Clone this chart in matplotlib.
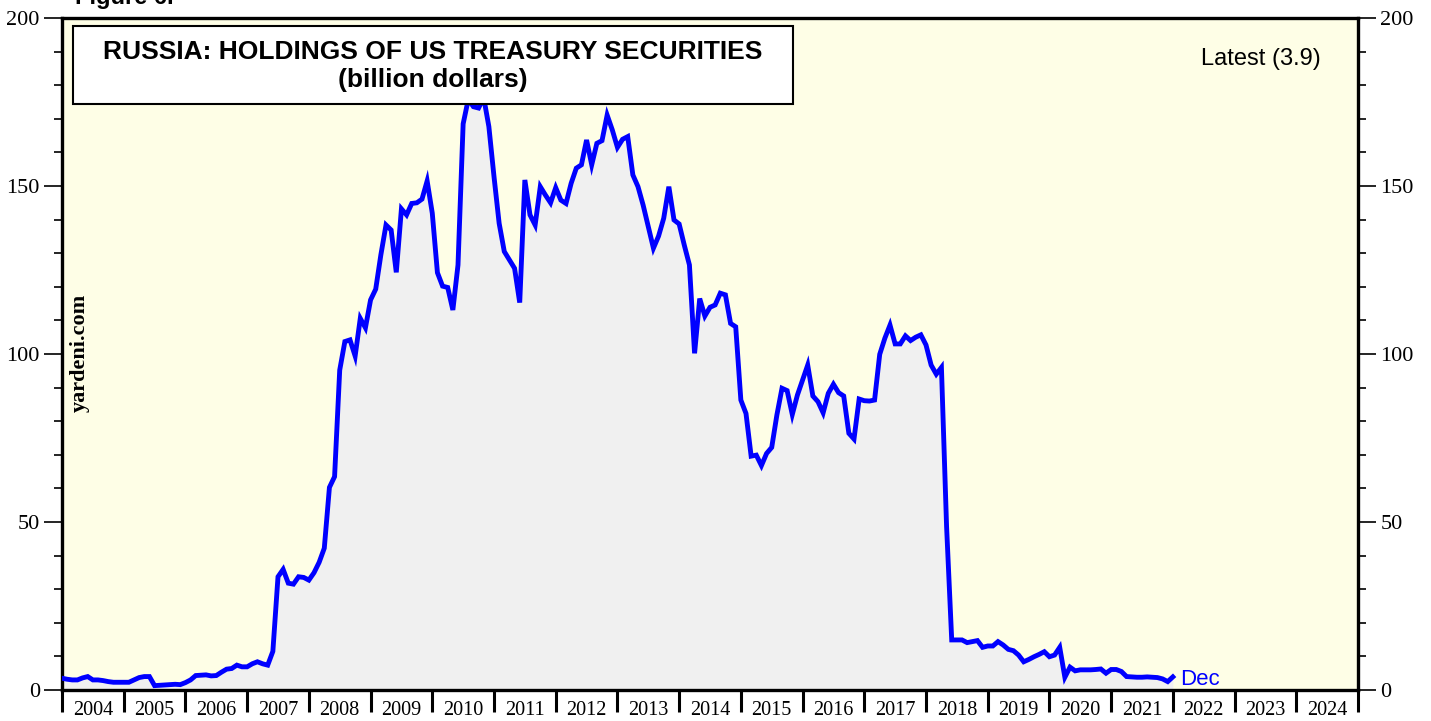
import matplotlib
matplotlib.use("Agg")
import matplotlib.pyplot as plt
from matplotlib.patches import Rectangle
from matplotlib.ticker import MultipleLocator, FixedLocator, NullFormatter, FixedFormatter
import numpy as np

# Russia: holdings of US Treasury securities, billion dollars, monthly (Dec 2003 .. Dec 2021)
v2003 = [3.5]
v2004 = [3.2, 3.0, 3.0, 3.6, 4.0, 3.0, 3.0, 2.8, 2.5, 2.3, 2.3, 2.3]
v2005 = [2.3, 3.0, 3.7, 4.0, 4.0, 1.3, 1.4, 1.5, 1.6, 1.7, 1.6, 2.2]
v2006 = [3.0, 4.3, 4.4, 4.5, 4.2, 4.3, 5.3, 6.2, 6.4, 7.4, 6.9, 6.9]
v2007 = [7.8, 8.4, 7.8, 7.4, 11.5, 33.7, 35.9, 31.8, 31.5, 33.7, 33.5, 32.7]
v2008 = [34.9, 38.0, 42.2, 60.3, 63.5, 95.2, 103.7, 104.2, 99.4, 110.6, 107.8, 116.1]
v2009 = [119.3, 129.5, 138.4, 136.9, 124.3, 143.2, 141.4, 144.8, 145.0, 146.1, 151.5, 141.9]
v2010 = [124.2, 120.2, 119.8, 113.1, 126.5, 168.5, 175.8, 173.6, 173.2, 176.3, 167.7, 152.8]
v2011 = [138.9, 130.5, 128.0, 125.5, 115.3, 151.8, 141.4, 138.4, 149.8, 147.3, 145.0, 149.5]
v2012 = [145.8, 144.8, 150.8, 155.3, 156.3, 163.7, 156.3, 162.7, 163.5, 171.1, 166.7, 161.5]
v2013 = [163.9, 164.7, 153.3, 149.8, 144.3, 137.9, 131.5, 135.1, 140.4, 149.8, 139.9, 138.7]
v2014 = [132.4, 126.5, 100.2, 116.5, 111.3, 113.9, 114.6, 118.1, 117.6, 109.1, 108.1, 86.3]
v2015 = [82.3, 69.6, 69.9, 66.8, 70.4, 72.2, 81.8, 89.8, 89.1, 82.0, 87.8, 92.3]
v2016 = [96.7, 87.5, 85.8, 82.5, 88.3, 91.0, 88.5, 87.5, 76.4, 74.7, 86.6, 86.1]
v2017 = [86.0, 86.3, 99.9, 104.7, 108.6, 103.0, 103.0, 105.4, 104.0, 105.0, 105.7, 102.7]
v2018 = [96.7, 94.0, 96.0, 48.7, 14.9, 14.9, 14.9, 14.1, 14.4, 14.7, 12.7, 13.1]
v2019 = [13.1, 14.4, 13.4, 12.1, 11.7, 10.4, 8.4, 9.1, 9.9, 10.6, 11.4, 9.9]
v2020 = [10.4, 12.7, 3.8, 6.8, 5.7, 6.0, 6.0, 6.0, 6.1, 6.25, 5.0, 6.1]
v2021 = [6.1, 5.5, 4.0, 3.9, 3.8, 3.8, 3.9, 3.8, 3.7, 3.3, 2.5, 3.9]

year_labels = [str(y) for y in range(2004, 2025)]
y_ticks = [0, 50, 100, 150, 200]

values = np.array(v2003 + v2004 + v2005 + v2006 + v2007 + v2008 + v2009 + v2010 +
                  v2011 + v2012 + v2013 + v2014 + v2015 + v2016 + v2017 + v2018 +
                  v2019 + v2020 + v2021)
# month-end positions in decimal years, first point = end of Dec 2003
t = 2004 + np.arange(len(values)) / 12.0

bg = "#fefee6"
fill_c = "#f0f0f0"
line_c = "#0000ff"

fig = plt.figure(figsize=(14.31, 7.21), dpi=100)
ax = fig.add_axes([62 / 1431, 1 - 690 / 721, 1296 / 1431, 672 / 721])
ax.set_facecolor(bg)

ax.fill_between(t, 0, values, color=fill_c, zorder=1, linewidth=0)
ax.plot(t, values, color=line_c, linewidth=3.5, zorder=3, solid_joinstyle="miter")

ax.set_xlim(2004, 2025)
ax.set_ylim(0, 200)

for s in ax.spines.values():
    s.set_linewidth(2.4)
    s.set_color("black")

serif = "Liberation Serif"
sans = "Liberation Sans"

# y axis: both sides
ax.yaxis.set_major_locator(FixedLocator(y_ticks))
ax.yaxis.set_minor_locator(MultipleLocator(10))
ax.tick_params(axis="y", which="major", direction="out", length=13, width=1.2,
               left=True, right=True, labelleft=True, labelright=True, labelsize=16, pad=3)
ax.tick_params(axis="y", which="minor", direction="out", length=6, width=1.2,
               left=True, right=True)
for lab in ax.get_yticklabels():
    lab.set_fontfamily(serif)

# x axis: year boundaries as ticks, labels at mid-year
ax.xaxis.set_major_locator(FixedLocator(np.arange(2004, 2026)))
ax.xaxis.set_major_formatter(NullFormatter())
ax.xaxis.set_minor_locator(FixedLocator(np.arange(2004, 2025) + 0.5))
ax.xaxis.set_minor_formatter(FixedFormatter(year_labels))
ax.tick_params(axis="x", which="major", direction="out", length=16, width=2.2, top=False)
ax.tick_params(axis="x", which="minor", length=0, labelsize=14.6, pad=8, top=False)
for lab in ax.get_xticklabels(minor=True):
    lab.set_fontfamily(serif)

# title box
ax.add_patch(Rectangle((0.0085, 0.872), 0.5555, 0.116, transform=ax.transAxes,
                       facecolor="white", edgecolor="black", linewidth=1.5, zorder=5))
ax.text(0.286, 0.950, "RUSSIA: HOLDINGS OF US TREASURY SECURITIES", transform=ax.transAxes,
        ha="center", va="center", fontsize=19, fontweight="bold", family=sans, zorder=6)
ax.text(0.286, 0.907, "(billion dollars)", transform=ax.transAxes,
        ha="center", va="center", fontsize=19, fontweight="bold", family=sans, zorder=6)

ax.text(0.971, 0.939, "Latest (3.9)", transform=ax.transAxes, ha="right", va="center",
        fontsize=17, family=sans, zorder=6)

ax.annotate("Dec", xy=(t[-1], values[-1]), xytext=(5, -2), textcoords="offset points",
            ha="left", va="center", color=line_c, fontsize=16, family=sans, zorder=6)

fig.text(80 / 1431, 1 - 353 / 721, "yardeni.com", rotation=90, ha="center", va="center",
         fontsize=16, fontweight="bold", family=serif)

fig.text(75 / 1431, 1 - 4 / 721, "Figure 6.", ha="left", va="baseline",
         fontsize=17, fontweight="bold", family=sans)

fig.savefig("out.png", dpi=100, facecolor="white")
